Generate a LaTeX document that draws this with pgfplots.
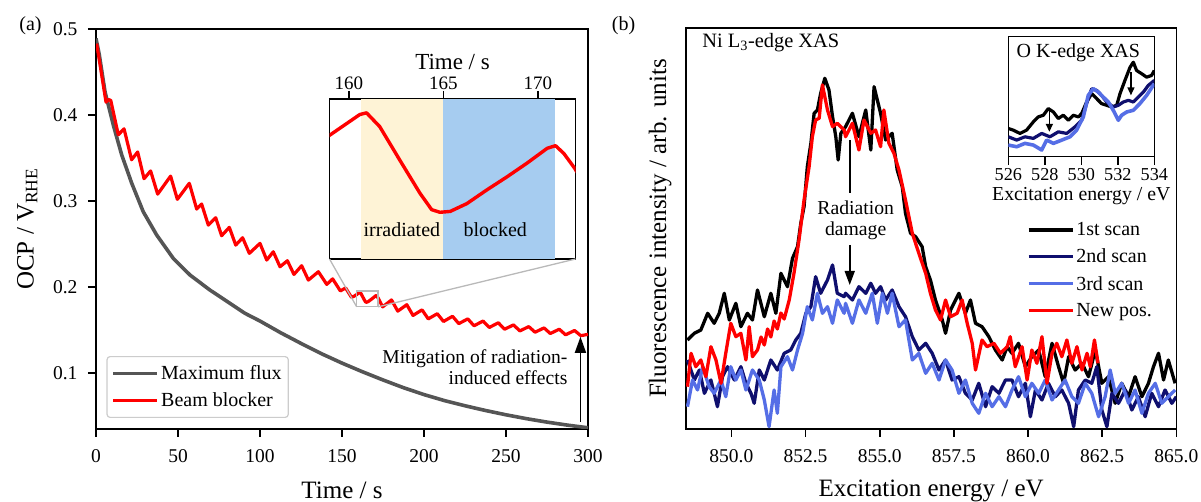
\documentclass[border=0pt]{standalone}
\usepackage{fontspec}
\setmainfont{Liberation Serif}
\usepackage{pgfplots}
\usepackage{pgfplotstable}
\pgfplotsset{compat=1.18}
\usetikzlibrary{arrows.meta}

\definecolor{fluxgray}{RGB}{85,85,85}
\definecolor{scannavy}{RGB}{15,15,110}
\definecolor{scanblue}{RGB}{85,110,230}
\definecolor{zoomgray}{RGB}{185,185,185}
\definecolor{irrcream}{RGB}{254,243,214}
\definecolor{blockblue}{RGB}{166,204,240}
\definecolor{lightgray204}{RGB}{204,204,204}

\pgfplotsset{
  base/.style={
    scale only axis,
    axis line style={line width=1.6pt},
    tick style={line width=1.6pt, black},
    major tick length=8pt,
    tick align=outside,
    /pgf/number format/assume math mode=true,
    ticklabel style={font=\fontsize{19.5}{22}\selectfont},
    label style={font=\fontsize{25}{30}\selectfont},
    every axis plot/.append style={line join=round},
  },
}

% beam blocker OCP trace (s, V)
\pgfplotstableread{
t v
0.4 0.483
6.1 0.415
7.6 0.418
9.0 0.417
13.6 0.377
17.1 0.384
21.7 0.348
25.4 0.357
29.3 0.326
33.3 0.335
37.6 0.308
45.5 0.329
49.6 0.302
56.9 0.3206
61.4 0.2907
64.4 0.2965
68.5 0.2720
73.0 0.2806
76.6 0.2597
81.3 0.2694
85.2 0.2488
89.4 0.2573
93.5 0.2392
100.0 0.2508
104.1 0.2314
108.1 0.2410
112.2 0.2236
116.7 0.2306
120.7 0.2147
125.4 0.2248
129.5 0.2081
135.6 0.2178
140.7 0.2031
144.3 0.2095
149.0 0.1955
152.2 0.1990
155.8 0.1880
157.5 0.1895
158.97 0.1913
160.57 0.1937
160.93 0.1939
161.63 0.1923
162.70 0.1884
163.76 0.1846
164.38 0.1827
164.82 0.1824
165.36 0.1825
166.24 0.1834
167.31 0.1850
168.37 0.1865
169.44 0.1881
170.50 0.1898
170.94 0.1901
171.38 0.1892
171.95 0.1875
174.8 0.1770
180.2 0.1850
184.0 0.1720
189.5 0.1795
193.3 0.1670
198.8 0.1735
202.6 0.1630
208.1 0.1690
211.9 0.1600
217.4 0.1660
221.2 0.1575
226.7 0.1630
230.5 0.1550
236.0 0.1605
239.8 0.1530
245.3 0.1585
249.1 0.1510
254.6 0.1560
258.4 0.1490
263.9 0.1540
267.7 0.1475
273.2 0.1525
277.0 0.1460
282.5 0.1510
286.3 0.1445
291.8 0.1495
295.6 0.1435
300.0 0.1450
}\redA

% maximum flux OCP trace
\pgfplotstableread{
t v
0 0.489
2 0.470
5.5 0.427
10.6 0.388
15.7 0.3535
21.8 0.3206
28.8 0.2876
37 0.2605
47.1 0.2334
57.3 0.214
69.5 0.1965
81.7 0.181
90.9 0.1694
100 0.1605
112.5 0.147
125 0.1345
137.5 0.1225
150 0.1116
162.5 0.1015
175 0.0920
187.5 0.0830
200 0.0750
212.5 0.0680
225 0.0620
237.5 0.0565
250 0.0515
262.5 0.047
275 0.0430
287.5 0.0395
300 0.0364
}\grayA

% Ni L3-edge scans (eV, arb.)
\pgfplotstableread{
e v
848.52 89
848.75 95.7
848.97 99
849.20 115.7
849.42 105.7
849.59 115.7
849.76 135.7
849.93 109
850.15 125.7
850.32 102.3
850.54 115.7
850.71 109
850.88 139
851.11 112.3
851.33 135.7
851.50 115.7
851.67 155.7
851.89 142.3
852.06 170.7
852.23 182.3
852.34 205.7
852.45 222.3
852.56 262.3
852.68 285.7
852.79 315.7
852.90 319
853.01 335.7
853.15 350.7
853.29 339
853.41 312.3
853.52 292.3
853.60 269
853.69 295.7
853.85 302.3
854.08 315.7
854.30 292.3
854.53 319
854.70 279
854.81 342.3
854.92 329
855.03 315.7
855.20 289
855.42 295.7
855.59 259
855.76 242.3
855.87 215.7
856.04 195.7
856.21 192.3
856.43 182.3
856.55 162.3
856.71 149
856.88 129
857.11 109
857.22 95.7
857.39 119
857.67 135.7
857.89 115.7
858.06 129
858.23 105.7
858.45 102.3
858.68 92.3
858.90 79
859.13 69
859.30 82.3
859.46 75.7
859.68 85.7
859.91 62.3
860.13 72.3
860.36 79
860.58 52.3
860.81 85.7
861.03 62.3
861.20 45.7
861.37 72.3
861.59 59
861.82 65.7
862.04 52.3
862.27 79
862.49 45.7
862.71 52.3
862.94 25.7
863.16 45.7
863.39 32.3
863.61 52.3
863.84 32.3
864.06 45.7
864.23 62.3
864.40 75.7
864.57 49
864.73 69
864.96 45.7
}\scanone

\pgfplotstableread{
e v
848.52 69
848.75 49
848.92 59
849.09 35.7
849.31 49
849.53 22.3
849.70 52.3
849.87 62.3
850.10 49
850.32 62.3
850.49 45.7
850.66 35.7
850.77 25.7
850.94 59
851.11 49
851.33 69
851.55 59
851.78 75.7
852.00 79
852.17 89
852.34 95.7
852.51 115.7
852.68 122.3
852.84 152.3
853.01 135.7
853.24 149
853.41 164
853.57 135.7
853.80 132.3
853.85 135.7
854.08 129
854.30 142.3
854.53 135.7
854.70 145.7
854.86 135.7
855.03 142.3
855.20 129
855.42 139
855.65 122.3
855.87 112.3
856.10 92.3
856.32 79
856.55 85.7
856.77 75.7
857.00 59
857.22 69
857.44 49
857.67 52.3
857.89 35.7
858.12 29
858.34 45.7
858.57 22.3
858.79 42.3
859.02 35.7
859.24 49
859.46 49
859.68 32.3
859.91 45.7
860.08 12.3
860.25 39
860.47 29
860.69 45.7
860.92 32.3
861.14 39
861.37 25.7
861.54 2.3
861.70 39
861.93 49
862.15 45.7
862.32 62.3
862.49 19
862.66 2.3
862.83 35.7
863.05 25.7
863.28 39
863.50 19
863.72 32.3
863.95 12.3
864.17 35.7
864.40 22.3
864.62 39
864.85 25.7
865.00 32.3
}\scantwo

\pgfplotstableread{
e v
848.52 22.3
848.69 49
848.86 39
849.03 62.3
849.25 42.3
849.42 35.7
849.65 49
849.81 32.3
849.98 62.3
850.15 49
850.32 59
850.49 39
850.71 59
850.94 49
851.11 29
851.27 2.3
851.44 39
851.55 15.7
851.67 62.3
851.89 72.3
852.06 59
852.23 79
852.40 95.7
852.56 122.3
852.73 109
852.90 135.7
853.07 115.7
853.24 122.3
853.41 105.7
853.57 129
853.80 115.7
853.85 125.7
854.08 105.7
854.30 129
854.53 115.7
854.75 135.7
854.92 105.7
855.09 135.7
855.26 115.7
855.42 135.7
855.65 102.3
855.87 109
856.10 69
856.32 75.7
856.55 55.7
856.77 65.7
857.00 49
857.22 69
857.44 59
857.67 35.7
857.89 49
858.12 25.7
858.34 15.7
858.57 35.7
858.79 22.3
859.02 32.3
859.24 22.3
859.46 39
859.68 52.3
859.91 32.3
860.13 45.7
860.36 35.7
860.58 49
860.81 29
861.03 39
861.25 49
861.48 32.3
861.70 25.7
861.93 45.7
862.15 35.7
862.38 12.3
862.60 32.3
862.77 59
862.94 35.7
863.16 45.7
863.39 25.7
863.61 39
863.84 15.7
864.06 35.7
864.29 45.7
864.51 25.7
864.73 32.3
864.96 39
}\scanthree

\pgfplotstableread{
e v
848.52 42.3
848.64 75.7
848.80 62.3
848.97 69
849.14 52.3
849.31 82.3
849.48 69
849.65 45.7
849.81 75.7
849.98 105.7
850.15 92.3
850.32 95.7
850.49 69
850.60 102.3
850.71 72.3
850.88 79
851.00 92
851.11 84
851.22 100
851.33 92
851.44 108
851.55 100
851.67 116
851.78 110
851.95 129
852.11 155.7
852.28 189
852.45 229
852.62 262.3
852.73 292.3
852.84 309
852.96 310.7
853.07 344
853.24 319
853.41 302.3
853.57 305.7
853.80 299
853.85 292.3
854.08 305.7
854.30 279
854.47 309
854.70 295.7
854.86 299
855.03 282.3
855.14 319
855.31 285.7
855.48 275.7
855.65 259
855.87 229
856.10 195.7
856.32 175.7
856.55 155.7
856.71 135.7
856.88 119
857.05 109
857.22 129
857.39 112.3
857.61 115.7
857.78 129
857.95 105.7
858.12 85.7
858.23 59
858.45 89
858.62 82.3
858.85 85.7
859.07 75.7
859.30 82.3
859.40 92.3
859.57 62.3
859.80 82.3
859.97 49
860.13 79
860.30 65.7
860.47 92.3
860.64 45.7
860.81 75.7
860.97 85.7
861.14 72.3
861.31 89
861.48 65.7
861.65 82.3
861.82 59
861.99 75.7
862.10 62.3
862.24 89
862.36 65.7
}\scannew

% O K-edge scans (inset)
\pgfplotstableread{
e v
526.00 28.4
526.27 26.7
526.64 23.4
527.00 26.7
527.37 35
527.64 40
527.92 41.7
528.19 48.4
528.47 45
528.74 38.4
529.01 41.7
529.29 36.7
529.56 41.7
529.84 40
530.02 43.4
530.29 55
530.57 63.4
530.84 58.4
531.11 53.4
531.39 51.7
531.66 50
531.94 51.7
532.12 63.4
532.39 76.7
532.67 90
532.85 95
533.03 86.7
533.31 83.4
533.58 80
533.85 81.7
534.00 86.7
}\oone

\pgfplotstableread{
e v
526.00 20
526.46 16.7
526.91 20
527.37 18.4
527.83 23.4
528.28 20
528.74 25
529.20 23.4
529.65 30
530.02 36.7
530.29 53.4
530.57 68.4
530.84 66.7
531.11 61.7
531.39 55
531.75 50
532.03 51.7
532.30 55
532.58 56.7
532.85 55
533.12 60
533.40 65
533.67 71.7
534.00 76.7
}\otwo

\pgfplotstableread{
e v
526.00 11.7
526.46 10
526.91 13.4
527.37 11.7
527.83 6.7
528.10 16.7
528.47 13.4
528.93 16.7
529.38 20
529.74 26.7
530.11 40
530.38 61.7
530.66 68.4
530.93 65
531.20 60
531.48 55
531.75 46.7
532.03 36.7
532.21 41.7
532.49 45
532.85 46.7
533.21 53.4
533.58 61.7
534.00 73.4
}\othree

\begin{document}
\begin{tikzpicture}
\useasboundingbox (0,0) rectangle (1201pt,502pt);

\node[font=\fontsize{20}{24}\selectfont] at (30.5pt,476.5pt) {(a)};
\node[font=\fontsize{20}{24}\selectfont] at (623.5pt,476.5pt) {(b)};

% ---------------- panel (a) ----------------
\begin{axis}[
  base,
  name=mainA,
  at={(96pt,73pt)}, anchor=south west,
  width=492pt, height=400pt,
  xmin=0, xmax=300, ymin=0.035, ymax=0.5,
  xtick={0,50,100,150,200,250,300},
  ytick={0.1,0.2,0.3,0.4,0.5},
  xticklabel style={yshift=-9pt},
  yticklabel style={xshift=-7pt, /pgf/number format/.cd, fixed, precision=1},
  xtick pos=left, ytick pos=left,
  xlabel={Time / s},
  xlabel style={at={(axis description cs:0.5,0)}, anchor=base, yshift=-69.5pt},
  ylabel={OCP / V\textsubscript{RHE}},
  ylabel style={at={(axis description cs:-0.1266,0.5)}, anchor=base},
  legend cell align=left,
  legend image code/.code={\draw[#1] (0pt,0pt) -- (44pt,0pt);},
  legend style={
    at={(axis description cs:0.0213,0.0275)}, anchor=south west,
    draw=lightgray204, line width=1.2pt, rounded corners=3pt,
    fill=white, font=\fontsize{20}{24}\selectfont,
    inner xsep=4.5pt, inner ysep=7.2pt, row sep=7.4pt,
  },
]
\addplot[fluxgray, line width=3.6pt] table[x=t, y=v] {\grayA};
\addlegendentry{Maximum flux\hspace{8pt}}
\addplot[red, line width=3.2pt] table[x=t, y=v] {\redA};
\addlegendentry{Beam blocker}

\draw[zoomgray, line width=1.3pt] (axis cs:158.97,0.177) rectangle (axis cs:172,0.1955);
\coordinate (rbl) at (axis cs:158.97,0.177);
\coordinate (rbr) at (axis cs:172,0.177);

\node[anchor=east, align=right, font=\fontsize{19.6}{21}\selectfont]
  at (axis cs:289.6,0.1064) {Mitigation of radiation-\\induced effects};
\draw[-{Triangle[length=16pt,width=11pt]}, line width=1.6pt]
  (axis cs:295.4,0.0434) -- (axis cs:295.4,0.1422);
\end{axis}

% inset of panel (a)
\begin{axis}[
  base,
  name=insetA,
  at={(329.5pt,243pt)}, anchor=south west,
  width=246pt, height=160pt,
  xmin=158.97, xmax=172, ymin=0.177, ymax=0.1955,
  xtick={160,165,170}, ytick=\empty,
  xtick pos=right, xticklabel pos=right,
  xticklabel style={yshift=-2pt},
  xlabel={Time / s},
  ticklabel style={font=\fontsize{19}{22}\selectfont},
  label style={font=\fontsize{23}{27}\selectfont},
  axis background/.style={fill=white},
]
\addplot[draw=none, fill=irrcream] coordinates {(160.66,0.177) (160.66,0.1955) (164.97,0.1955) (164.97,0.177)} -- cycle;
\addplot[draw=none, fill=blockblue] coordinates {(164.97,0.177) (164.97,0.1955) (170.89,0.1955) (170.89,0.177)} -- cycle;
\addplot[red, line width=3.4pt] table[x=t, y=v] {\redA};
\node[font=\fontsize{20}{24}\selectfont] at (axis cs:162.8,0.1804) {irradiated};
\node[font=\fontsize{20}{24}\selectfont] at (axis cs:167.75,0.1804) {blocked};
\end{axis}
\draw[zoomgray, line width=1.3pt] (rbl) -- (insetA.south west);
\draw[zoomgray, line width=1.3pt] (rbr) -- (insetA.south east);

% ---------------- panel (b) ----------------
\begin{axis}[
  base,
  at={(686pt,73pt)}, anchor=south west,
  width=490.3pt, height=401pt,
  xmin=848.47, xmax=865, ymin=0, ymax=401,
  xtick={850,852.5,855,857.5,860,862.5,865}, ytick=\empty,
  xticklabel style={yshift=-9pt, /pgf/number format/.cd, fixed, fixed zerofill, precision=1},
  xtick pos=left,
  xlabel={Excitation energy / eV},
  xlabel style={at={(axis description cs:0.5,0)}, anchor=base, yshift=-68pt},
  ylabel={Fluorescence intensity / arb. units},
  ylabel style={at={(axis description cs:-0.0408,0.5)}, anchor=base},
  legend cell align=left,
  legend image code/.code={\draw[#1] (0pt,0pt) -- (44pt,0pt);},
  legend style={
    at={(axis description cs:0.695,0.52)}, anchor=north west,
    draw=none, fill=none, font=\fontsize{20}{24}\selectfont,
    inner sep=0pt, row sep=7.7pt,
  },
]
\addplot[black, line width=3.3pt] table[x=e, y=v] {\scanone};
\addlegendentry{1st scan}
\addplot[scannavy, line width=3.3pt] table[x=e, y=v] {\scantwo};
\addlegendentry{2nd scan}
\addplot[scanblue, line width=3.3pt] table[x=e, y=v] {\scanthree};
\addlegendentry{3rd scan}
\addplot[red, line width=3.3pt] table[x=e, y=v] {\scannew};
\addlegendentry{New pos.}

\node[anchor=west, font=\fontsize{20.4}{24}\selectfont] at (axis cs:848.906,386) {Ni L\textsubscript{3}-edge XAS};
\node[align=center, font=\fontsize{19.7}{21}\selectfont] at (axis cs:854.19,209) {Radiation\\damage};
\draw[line width=1.6pt] (axis cs:853.99,289) -- (axis cs:853.99,236);
\draw[-{Triangle[length=14pt,width=10pt]}, line width=1.6pt]
  (axis cs:853.99,184) -- (axis cs:853.99,144);
\end{axis}

% inset of panel (b)
\begin{axis}[
  base,
  at={(1008.3pt,345.3pt)}, anchor=south west,
  width=146pt, height=120pt,
  xmin=526, xmax=534, ymin=0, ymax=120.7,
  xtick={526,528,530,532,534}, ytick=\empty,
  xtick pos=left,
  xlabel={Excitation energy / eV},
  ticklabel style={font=\fontsize{18.2}{21}\selectfont},
  label style={font=\fontsize{19.8}{23}\selectfont},
  axis background/.style={fill=white},
]
\addplot[black, line width=3.2pt] table[x=e, y=v] {\oone};
\addplot[scannavy, line width=3.2pt] table[x=e, y=v] {\otwo};
\addplot[scanblue, line width=3.6pt] table[x=e, y=v] {\othree};
\draw[-{Triangle[length=8pt,width=7pt]}, line width=1.4pt]
  (axis cs:528.25,46.7) -- (axis cs:528.25,25);
\draw[-{Triangle[length=8pt,width=7pt]}, line width=1.4pt]
  (axis cs:532.72,85) -- (axis cs:532.72,61.7);
\node[font=\fontsize{20}{24}\selectfont] at (axis cs:529.84,105) {O K-edge XAS};
\end{axis}
\end{tikzpicture}
\end{document}
